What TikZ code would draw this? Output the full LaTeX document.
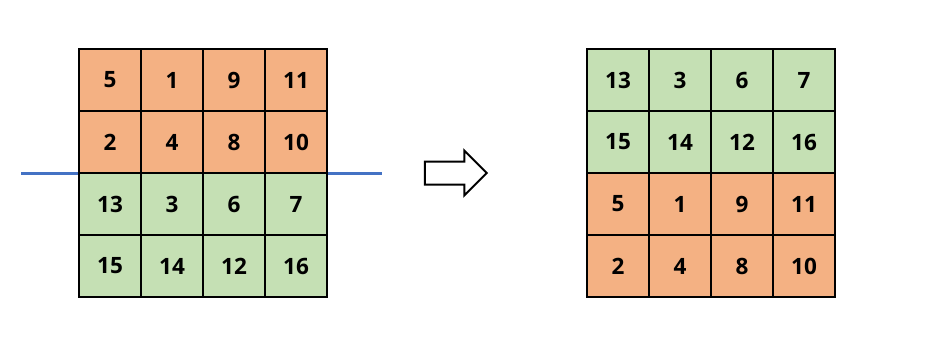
\documentclass[tikz,border=0pt]{standalone}
\usepackage{fontspec}
\setmainfont{Open Sans}
\usetikzlibrary{shapes.arrows}
\definecolor{org}{HTML}{F4B183}
\definecolor{grn}{HTML}{C5E0B4}
\definecolor{blu}{HTML}{4472C4}
\begin{document}
\begin{tikzpicture}[x=1pt,y=-1pt,
  cell/.style={draw=black,line width=2pt,minimum width=62pt,minimum height=62pt,inner sep=0pt,anchor=center,
    font=\fontsize{22.5}{22.5}\selectfont\bfseries},
  o/.style={cell,fill=org},
  g/.style={cell,fill=grn}]
\useasboundingbox (0,0) rectangle (929,345);
% left grid
\foreach \t [count=\i from 0] in {5,1,9,11}{\node[o] (L0\i) at (110+62*\i,80) {\t};}
\foreach \t [count=\i from 0] in {2,4,8,10}{\node[o] (L1\i) at (110+62*\i,142) {\t};}
\foreach \t [count=\i from 0] in {13,3,6,7}{\node[g] (L2\i) at (110+62*\i,204) {\t};}
\foreach \t [count=\i from 0] in {15,14,12,16}{\node[g] (L3\i) at (110+62*\i,266) {\t};}
% right grid
\foreach \t [count=\i from 0] in {13,3,6,7}{\node[g] (R0\i) at (618+62*\i,80) {\t};}
\foreach \t [count=\i from 0] in {15,14,12,16}{\node[g] (R1\i) at (618+62*\i,142) {\t};}
\foreach \t [count=\i from 0] in {5,1,9,11}{\node[o] (R2\i) at (618+62*\i,204) {\t};}
\foreach \t [count=\i from 0] in {2,4,8,10}{\node[o] (R3\i) at (618+62*\i,266) {\t};}
% cutting line
\coordinate (cl) at (21,173);
\coordinate (cr) at (382,173);
\draw[blu,line width=3pt] (cl) -- (cl -| L20.west);
\draw[blu,line width=3pt] (cr -| L23.east) -- (cr);
% arrow
\node[draw=black,line width=2pt,single arrow,minimum height=62pt,minimum width=43pt,
  single arrow head extend=11pt,inner xsep=0pt,inner ysep=10.5pt,text height=0pt,text depth=0pt,
  single arrow tip angle=90] (arr) at (450,173) {};
\end{tikzpicture}
\end{document}
